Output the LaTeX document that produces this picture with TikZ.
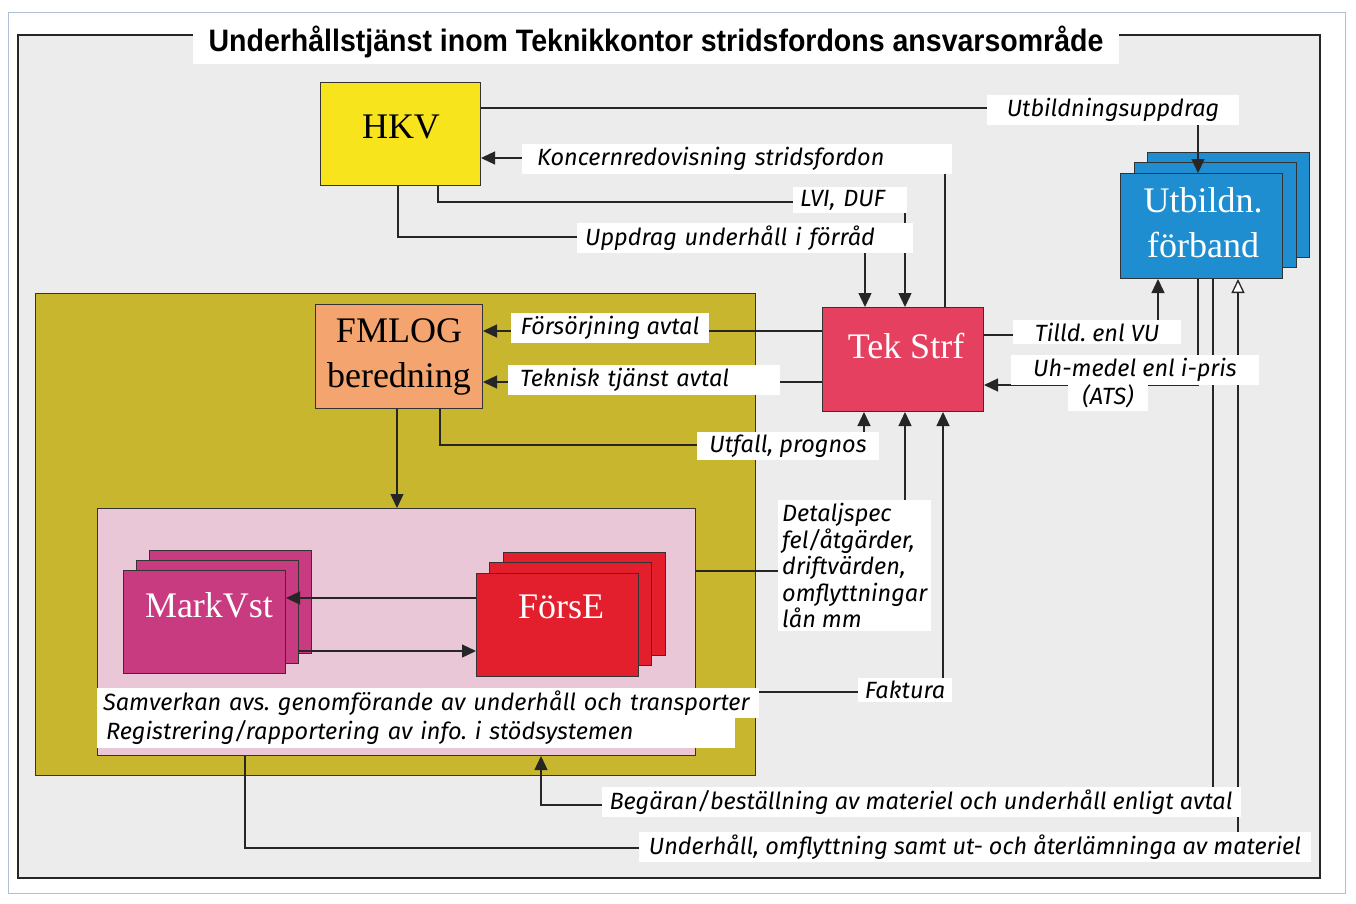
\documentclass[tikz,border=0pt]{standalone}
\usepackage{fontspec}
\setmainfont{Liberation Serif}
\newfontfamily\labfont{Fira Sans}
\newfontfamily\titlefont[FakeStretch=0.92]{Liberation Sans}
\usetikzlibrary{arrows.meta}
\definecolor{hkvY}{HTML}{F8E41C}
\definecolor{utbB}{HTML}{1E8ED0}
\definecolor{tekR}{HTML}{E5405F}
\definecolor{fmlO}{HTML}{F4A46E}
\definecolor{oliveC}{HTML}{C8B72E}
\definecolor{pinkC}{HTML}{E9C7D6}
\definecolor{mvC}{HTML}{C93B80}
\definecolor{feC}{HTML}{E31F2E}
\definecolor{bgC}{HTML}{ECECEC}
\definecolor{pageC}{HTML}{AFC0D6}
\tikzset{
  boxs/.style={draw=black!80, line width=1pt, inner sep=0pt, anchor=north west},
  btxt/.style={font=\fontsize{36}{45}\selectfont, align=center, inner sep=0pt},
  conn/.style={line width=1.3pt, draw=black!85},
  arr/.style={conn, -{Triangle[length=14pt,width=13pt]}},
  oarr/.style={conn, -{Triangle[open,fill=white,length=14pt,width=13pt]}},
  lab/.style={fill=white, inner xsep=7pt, inner ysep=3pt, font=\labfont\itshape\frenchspacing\fontsize{23.5}{27}\selectfont}
}
\begin{document}
\begin{tikzpicture}[x=1pt,y=-1pt]
\useasboundingbox (0,0) rectangle (1356,903);
\fill[white] (0,0) rectangle (1356,903);
\draw[pageC, line width=1pt] (8,12) rectangle (1345,893);
\fill[bgC] (18,35) rectangle (1320,878);
\draw[black!85, line width=1.3pt] (18,35) rectangle (1320,878);
\node[fill=white, inner xsep=16pt, inner ysep=6pt, font=\titlefont\bfseries\fontsize{31}{34}\selectfont] (title) at (656,42) {Underhållstjänst inom Teknikkontor stridsfordons ansvarsområde};

% containers
\node[boxs, fill=oliveC, minimum width=720pt, minimum height=482pt] (olive) at (35,293) {};
\node[boxs, fill=pinkC, minimum width=598pt, minimum height=247pt] (pink) at (97,508) {};

% boxes
\node[boxs, fill=hkvY, minimum width=160pt, minimum height=103pt] (hkv) at (320,82) {};
\node[btxt] (hkvt) at (401,127) {HKV};
\node[boxs, fill=utbB, minimum width=162pt, minimum height=105pt] (utb3) at (1147,152) {};
\node[boxs, fill=utbB, minimum width=162pt, minimum height=105pt] (utb2) at (1134,162) {};
\node[boxs, fill=utbB, minimum width=162pt, minimum height=105pt] (utb) at (1120,173) {};
\node[btxt, text=white] (utbt) at (1203,223) {Utbildn.\\förband};
\node[boxs, fill=tekR, minimum width=161pt, minimum height=104pt] (tek) at (822,307) {};
\node[btxt, text=white] (tekt) at (906,346) {Tek Strf};
\node[boxs, fill=fmlO, minimum width=167pt, minimum height=104pt] (fml) at (315,304) {};
\node[btxt] (fmlt) at (399,357) {FMLOG\\beredning};
\node[boxs, fill=mvC, minimum width=162pt, minimum height=103pt] (mv3) at (149,550) {};
\node[boxs, fill=mvC, minimum width=162pt, minimum height=103pt] (mv2) at (136,560) {};
\node[boxs, fill=mvC, minimum width=162pt, minimum height=103pt] (mv) at (123,570) {};
\node[btxt, text=white] (mvt) at (209,605) {MarkVst};
\node[boxs, fill=feC, minimum width=162pt, minimum height=103pt] (fe3) at (503,552) {};
\node[boxs, fill=feC, minimum width=162pt, minimum height=103pt] (fe2) at (489,562) {};
\node[boxs, fill=feC, minimum width=162pt, minimum height=103pt] (fe) at (476,573) {};
\node[btxt, text=white] (fet) at (561,607) {FörsE};

% connectors
\draw[arr] (hkv.east |- 0,108) -- (1198,108) -- (1198,0 |- utb.north);
\draw[arr] (945,0 |- tek.north) -- (945,158) -- (hkv.east |- 0,158);
\draw[arr] (438,0 |- hkv.south) -- (438,202) -- (905,202) -- (905,0 |- tek.north);
\draw[arr] (398,0 |- hkv.south) -- (398,237) -- (865,237) -- (865,0 |- tek.north);
\draw[arr] (tek.west |- 0,331) -- (fml.east |- 0,331);
\draw[arr] (tek.west |- 0,382) -- (fml.east |- 0,382);
\draw[arr] (440,0 |- fml.south) -- (440,445) -- (864,445) -- (864,0 |- tek.south);
\draw[arr] (pink.east |- 0,571) -- (905,571) -- (905,0 |- tek.south);
\draw[arr] (olive.east |- 0,692) -- (943,692) -- (943,0 |- tek.south);
\draw[arr] (tek.east |- 0,335) -- (1158,335) -- (1158,0 |- utb.south);
\draw[arr] (1198,0 |- utb.south) -- (1198,385) -- (tek.east |- 0,385);
\draw[arr] (1213,0 |- utb.south) -- (1213,805) -- (541,805) -- (541,0 |- pink.south);
\draw[oarr] (245,0 |- pink.south) -- (245,848) -- (1238,848) -- (1238,0 |- utb.south);
\draw[arr] (397,0 |- fml.south) -- (397,0 |- pink.north);
\draw[arr] (fe.west |- 0,598) -- (mv.east |- 0,598);
\draw[arr] (mv2.east |- 0,651) -- (fe.west |- 0,651);

% labels
\node[lab, inner xsep=20pt] (l1) at (1113,110) {Utbildningsuppdrag};
\node[lab, anchor=west, text width=400pt, align=left, inner xsep=15pt] (l2) at (522,159) {\mbox{Koncernredovisning stridsfordon}};
\node[lab, anchor=west, text width=100pt, align=left, inner xsep=7pt] (l3) at (793,200) {\mbox{LVI, DUF}};
\node[lab, anchor=west, text width=320pt, align=left, inner xsep=8pt] (l4) at (577,238) {\mbox{Uppdrag underhåll i förråd}};
\node[lab, inner xsep=10pt] (l5) at (610,328) {Försörjning avtal};
\node[lab, anchor=west, text width=248pt, align=left, inner xsep=12pt] (l6) at (508,380) {\mbox{Teknisk tjänst avtal}};
\node[lab, inner xsep=12pt] (l7) at (788,446) {Utfall, prognos};
\node[lab, anchor=north west, align=left, inner xsep=4pt, inner ysep=3pt, font=\labfont\itshape\fontsize{23.5}{26.5}\selectfont] (l8) at (778,500) {Detaljspec\\fel/åtgärder,\\driftvärden,\\omflyttningar\\lån mm};
\draw[conn] (943,500) -- (943,640);
\node[lab] (l9) at (905,690) {Faktura};
\node[lab, anchor=west, text width=650pt, align=left, inner xsep=6pt] (l10) at (97,703) {\mbox{Samverkan avs. genomförande av underhåll och transporter}};
\node[lab, anchor=west, text width=620pt, align=left, inner xsep=9pt] (l11) at (97,733) {\mbox{Registrering/rapportering av info. i stödsystemen}};
\node[lab, inner xsep=22pt] (l12) at (1097,332) {Tilld. enl VU};
\node[lab, inner xsep=22pt] (l13) at (1135,370) {Uh-medel enl i-pris};
\node[lab, inner xsep=14pt] (l14) at (1108,396) {(ATS)};
\node[lab, inner xsep=8pt] (l15) at (921,802) {Begäran/beställning av materiel och underhåll enligt avtal};
\node[lab, inner xsep=10pt] (l16) at (975,847) {Underhåll, omflyttning samt ut- och återlämninga av materiel};
\end{tikzpicture}
\end{document}
